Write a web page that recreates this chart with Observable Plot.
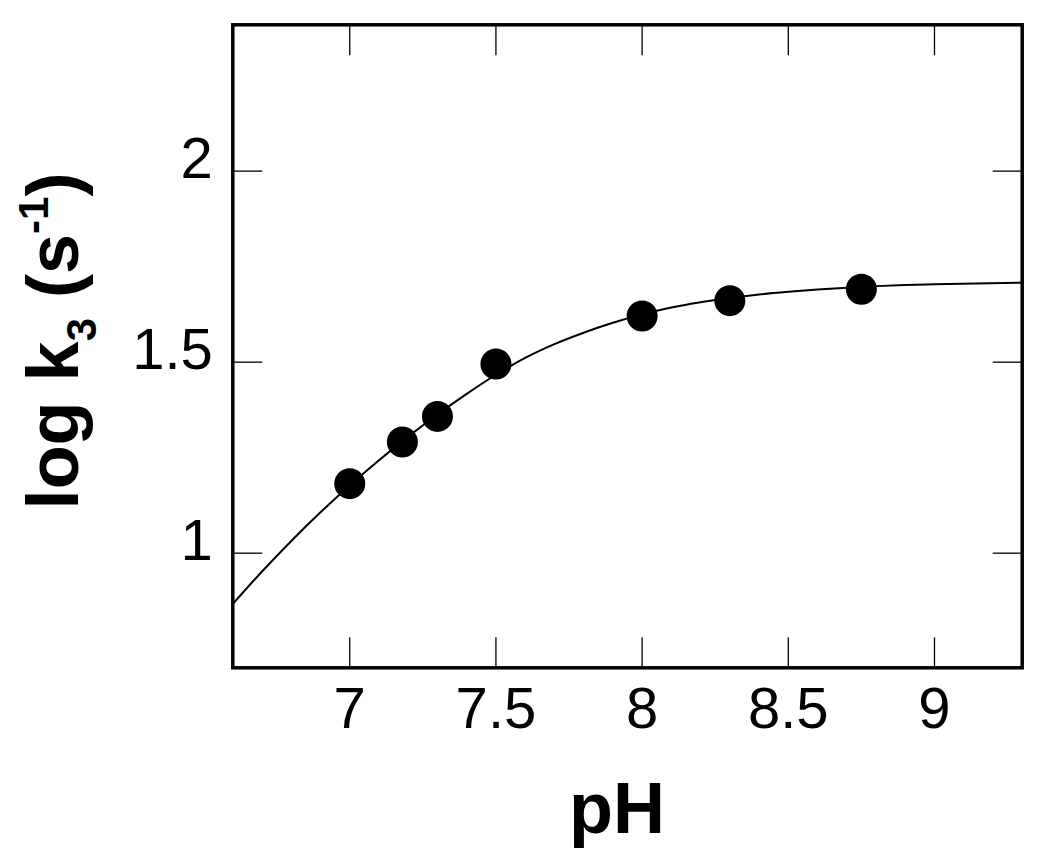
<!DOCTYPE html>
<html>
<head>
<meta charset="utf-8">
<script src="https://cdn.jsdelivr.net/npm/d3@7"></script>
<script src="https://cdn.jsdelivr.net/npm/@observablehq/plot@0.6"></script>
<style>
  html, body { margin: 0; padding: 0; background: #fff; }
  #chart svg { display: block; }
</style>
</head>
<body>
<div id="chart"></div>
<script>
// Measured data points
const pointPH   = [7.0, 7.18, 7.3, 7.5, 8.0, 8.3, 8.75];
const pointLogK = [1.182, 1.291, 1.358, 1.495, 1.621, 1.661, 1.691];

// Fitted curve
const curvePH   = [6.6, 6.7, 6.8, 6.9, 7.0, 7.1, 7.2, 7.3, 7.4, 7.5, 7.6, 7.7, 7.8, 7.9, 8.0, 8.1, 8.2, 8.3, 8.4, 8.5, 8.6, 8.7, 8.8, 8.9, 9.0, 9.3];
const curveLogK = [0.867, 0.952, 1.032, 1.107, 1.177, 1.243, 1.305, 1.363, 1.417, 1.467, 1.511, 1.547, 1.577, 1.603, 1.625, 1.643, 1.657, 1.668, 1.677, 1.684, 1.690, 1.695, 1.699, 1.702, 1.704, 1.708];

// Tick values
const xTicks = [7, 7.5, 8, 8.5, 9];
const yTicks = [1, 1.5, 2];

const xTitle = "pH";

const points = pointPH.map((x, i) => ({x, y: pointLogK[i]}));
const curve = curvePH.map((x, i) => ({x, y: curveLogK[i]}));

const FONT = "'Liberation Sans', Arial, Helvetica, sans-serif";

const chart = Plot.plot({
  width: 1050,
  height: 861,
  marginLeft: 232.3,
  marginRight: 28.3,
  marginTop: 24.3,
  marginBottom: 193.7,
  style: {background: "#fff", fontFamily: FONT, color: "#000"},
  x: {domain: [6.6, 9.3]},
  y: {domain: [0.7, 2.383]},
  marks: [
    // inward ticks on all four sides
    Plot.axisX({anchor: "bottom", ticks: xTicks, tickSize: -30, tickFormat: () => "", label: null, strokeWidth: 1.3}),
    Plot.axisX({anchor: "top", ticks: xTicks, tickSize: -30, tickFormat: () => "", label: null, strokeWidth: 1.3}),
    Plot.axisY({anchor: "left", ticks: yTicks, tickSize: -30, tickFormat: () => "", label: null, strokeWidth: 1.3}),
    Plot.axisY({anchor: "right", ticks: yTicks, tickSize: -30, tickFormat: () => "", label: null, strokeWidth: 1.3}),
    // tick labels
    Plot.axisX({anchor: "bottom", ticks: xTicks, tickSize: 0, tickPadding: 19, fontSize: 58, label: null, tickFormat: d => String(d)}),
    Plot.axisY({anchor: "left", ticks: yTicks, tickSize: 0, tickPadding: 20, dy: -12, fontSize: 58, label: null, tickFormat: d => String(d)}),
    Plot.line(curve, {x: "x", y: "y", stroke: "#000", strokeWidth: 2, curve: "monotone-x"}),
    Plot.dot(points, {x: "x", y: "y", r: 15.5, fill: "#000", stroke: "none"}),
    Plot.frame({stroke: "#000", strokeWidth: 3.5})
  ]
});

document.getElementById("chart").appendChild(chart);

const svg = d3.select(chart);
// x-axis title
svg.append("text")
  .attr("x", 617).attr("y", 833)
  .attr("text-anchor", "middle")
  .attr("font-family", FONT)
  .attr("font-weight", "bold")
  .attr("font-size", 72)
  .attr("fill", "#000")
  .text(xTitle);

// y-axis title: log k3 (s-1)
const yt = svg.append("text")
  .attr("transform", "translate(78,341) rotate(-90)")
  .attr("text-anchor", "middle")
  .attr("font-family", FONT)
  .attr("font-weight", "bold")
  .attr("font-size", 72)
  .attr("fill", "#000");
yt.append("tspan").text("log k");
yt.append("tspan").attr("font-size", 42).attr("dy", 18).text("3");
yt.append("tspan").attr("dy", -18).text(" (s");
yt.append("tspan").attr("font-size", 42).attr("dy", -30).text("-1");
yt.append("tspan").attr("dy", 30).text(")");
</script>
</body>
</html>
